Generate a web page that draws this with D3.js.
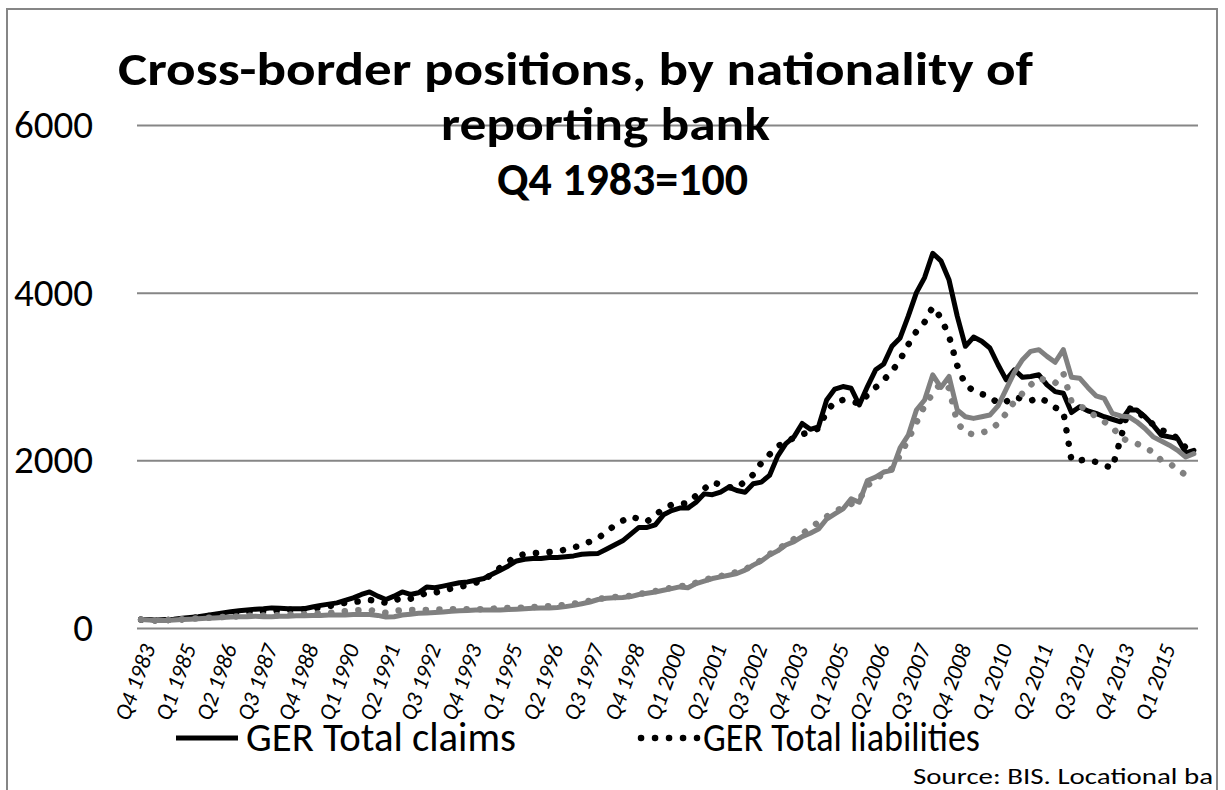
<!DOCTYPE html>
<html>
<head>
<meta charset="utf-8">
<script src="https://cdn.jsdelivr.net/npm/d3@7/dist/d3.min.js"></script>
<style>
  html, body { margin: 0; padding: 0; background: #fff; }
  svg { display: block; font-family: Carlito, Calibri, Lato, sans-serif; }
</style>
</head>
<body>
<div id="chart"></div>
<script>
// quarters run from Q4 1983, one label every 5 quarters
var firstQuarter = 4, firstYear = 1983, quarterCount = 130;
var tickLabels = ["Q4 1983", "Q1 1985", "Q2 1986", "Q3 1987", "Q4 1988", "Q1 1990",
  "Q2 1991", "Q3 1992", "Q4 1993", "Q1 1995", "Q2 1996", "Q3 1997", "Q4 1998",
  "Q1 2000", "Q2 2001", "Q3 2002", "Q4 2003", "Q1 2005", "Q2 2006", "Q3 2007",
  "Q4 2008", "Q1 2010", "Q2 2011", "Q3 2012", "Q4 2013", "Q1 2015"];
var yTicks = [0, 2000, 4000, 6000];

// GER Total claims (black solid)
var gerClaims = [
  100, 100, 95, 100, 105, 115, 125, 135, 150, 165,
  180, 195, 205, 215, 225, 230, 240, 235, 230, 230,
  230, 250, 270, 285, 300, 330, 360, 400, 430, 380,
  340, 380, 430, 400, 420, 490, 480, 500, 520, 540,
  550, 570, 590, 640, 690, 740, 800, 820, 830, 830,
  840, 840, 850, 860, 880, 885, 890, 940, 990, 1040,
  1120, 1200, 1200, 1230, 1350, 1400, 1430, 1430, 1500, 1600,
  1590, 1620, 1680, 1640, 1620, 1720, 1740, 1820, 2050, 2200,
  2280, 2440, 2370, 2400, 2720, 2850, 2880, 2860, 2660, 2880,
  3080, 3150, 3360, 3460, 3720, 4000, 4180, 4470, 4380, 4150,
  3720, 3360, 3470, 3420, 3340, 3140, 2960, 3080, 2990, 3000,
  3020, 2900, 2820, 2800, 2570, 2640, 2590, 2560, 2520, 2490,
  2460, 2600, 2600, 2520, 2420, 2300, 2280, 2260, 2090, 2120];

// GER Total liabilities (black dotted)
var gerLiabilities = [
  100, 95, 90, 95, 100, 105, 115, 125, 140, 150,
  160, 170, 180, 190, 200, 200, 205, 210, 215, 220,
  225, 235, 245, 260, 280, 300, 310, 320, 335, 320,
  300, 330, 360, 350, 380, 420, 420, 450, 470, 490,
  510, 540, 580, 640, 720, 790, 860, 880, 890, 900,
  905, 915, 935, 960, 990, 1030, 1070, 1150, 1220, 1280,
  1330, 1300, 1270, 1350, 1420, 1470, 1480, 1490, 1580, 1660,
  1740, 1710, 1680, 1670, 1750, 1830, 1970, 2070, 2170, 2220,
  2270, 2310, 2340, 2380, 2580, 2700, 2720, 2700, 2680, 2780,
  2870, 2960, 3060, 3200, 3380, 3540, 3650, 3830, 3700, 3480,
  3130, 2900, 2830, 2790, 2760, 2680, 2700, 2760, 2730, 2710,
  2750, 2700, 2630, 2580, 2000, 2000, 2010, 1980, 1940, 1910,
  2250, 2620, 2600, 2500, 2430, 2360, 2330, 2260, 2150, 2120];

// grey solid series
var greyClaims = [
  100, 95, 90, 90, 95, 100, 105, 110, 115, 120,
  125, 130, 135, 135, 140, 135, 135, 140, 140, 145,
  145, 150, 150, 155, 155, 155, 160, 160, 160, 150,
  130, 135, 155, 165, 175, 180, 185, 190, 200, 205,
  210, 215, 215, 215, 215, 220, 225, 230, 235, 240,
  240, 245, 255, 270, 290, 310, 340, 355, 360, 365,
  375, 400, 415, 430, 450, 470, 490, 480, 530, 560,
  590, 610, 630, 650, 690, 750, 800, 870, 920, 990,
  1030, 1090, 1130, 1180, 1300, 1360, 1420, 1540, 1500, 1760,
  1800, 1860, 1880, 2150, 2300, 2600, 2720, 3020, 2870, 3000,
  2600, 2520, 2500, 2520, 2540, 2650, 2850, 3050, 3200, 3300,
  3320, 3240, 3170, 3320, 2990, 2980, 2870, 2770, 2740, 2560,
  2530, 2520, 2460, 2380, 2280, 2230, 2180, 2120, 2040, 2080];

// grey dotted series
var greyLiabilities = [
  100, 95, 90, 95, 100, 105, 110, 115, 120, 125,
  130, 135, 140, 145, 150, 150, 150, 155, 160, 160,
  165, 170, 175, 180, 190, 200, 210, 215, 215, 195,
  180, 200, 215, 215, 215, 215, 220, 220, 225, 225,
  225, 225, 225, 230, 235, 240, 240, 245, 250, 255,
  260, 265, 275, 290, 305, 325, 345, 360, 370, 375,
  385, 405, 420, 440, 460, 480, 500, 500, 540, 570,
  600, 620, 640, 670, 700, 750, 810, 880, 940, 1000,
  1060, 1120, 1200, 1260, 1330, 1390, 1440, 1480, 1530, 1700,
  1770, 1850, 1900, 2060, 2250, 2450, 2650, 2800, 2920, 2860,
  2450, 2330, 2310, 2330, 2360, 2440, 2560, 2700, 2800, 2900,
  2980, 2950, 2920, 3040, 2700, 2650, 2600, 2520, 2460, 2400,
  2270, 2230, 2200, 2150, 2100, 2000, 1960, 1900, 1820, 1780];

var legendNames = ["GER Total claims", "GER Total liabilities"];
var sourceNote = "Source: BIS. Locational ba";

var W = 1225, H = 790;
var plot = {left: 137, right: 1198, top: 125, bottom: 628};

var quarters = [];
for (var i = 0; i < quarterCount; i++) {
  var q = (firstQuarter - 1 + i) % 4 + 1;
  var yr = firstYear + Math.floor((firstQuarter - 1 + i) / 4);
  quarters.push("Q" + q + " " + yr);
}

var svg = d3.select("#chart").append("svg")
  .attr("width", W)
  .attr("height", H);

// chart frame (bottom edge runs off the page)
svg.append("rect")
  .attr("x", 7).attr("y", 9)
  .attr("width", 1210).attr("height", 820)
  .attr("fill", "#fff")
  .attr("stroke", "#868686")
  .attr("stroke-width", 2);

var x = d3.scalePoint().domain(quarters).range([plot.left, plot.right]).padding(0.5);
var y = d3.scaleLinear().domain([0, 6000]).range([plot.bottom, plot.top]);

// gridlines + y labels
var yAxis = d3.axisLeft(y)
  .tickValues(yTicks)
  .tickFormat(d3.format("d"))
  .tickSize(-(plot.right - plot.left))
  .tickPadding(44);
var gy = svg.append("g")
  .attr("transform", "translate(" + plot.left + ",0)")
  .call(yAxis);
gy.select(".domain").remove();
gy.selectAll(".tick line").attr("stroke", "#868686").attr("stroke-width", 2);
gy.selectAll(".tick text")
  .attr("fill", "#000")
  .style("font-size", "39px")
  .style("font-family", "Carlito, Calibri, Lato, sans-serif");

// x labels, every 5th quarter
var labelQuarters = tickLabels.filter(function(d) { return quarters.indexOf(d) >= 0; });
svg.append("g").selectAll("text")
  .data(labelQuarters)
  .enter().append("text")
  .attr("transform", function(d) { return "translate(" + (x(d) + 7) + "," + 645 + ") rotate(-70)"; })
  .attr("text-anchor", "end")
  .attr("dy", "0.35em")
  .style("font-size", "23px")
  .style("font-style", "italic")
  .text(function(d) { return d; });

// lines
var line = d3.line()
  .x(function(d, i) { return x(quarters[i]); })
  .y(function(d) { return y(d); });

var series = [
  {values: gerClaims, color: "#000", width: 5, dash: null},
  {values: gerLiabilities, color: "#000", width: 6.5, dash: "0.1,13.5"},
  {values: greyClaims, color: "#808080", width: 5, dash: null},
  {values: greyLiabilities, color: "#808080", width: 6.5, dash: "0.1,13.5"}
];

series.forEach(function(s) {
  svg.append("path")
    .datum(s.values)
    .attr("fill", "none")
    .attr("stroke", s.color)
    .attr("stroke-width", s.width)
    .attr("stroke-linejoin", "round")
    .attr("stroke-linecap", "round")
    .attr("stroke-dasharray", s.dash)
    .attr("d", line);
});

// title
var titleLines = [
  {text: "Cross-border positions, by nationality of", x: 118, y: 85, len: 915},
  {text: "reporting bank", x: 441, y: 140, len: 329},
  {text: "Q4 1983=100", x: 497, y: 195, len: 251}
];
svg.append("g").selectAll("text")
  .data(titleLines)
  .enter().append("text")
  .attr("x", function(d) { return d.x; })
  .attr("y", function(d) { return d.y; })
  .attr("textLength", function(d) { return d.len; })
  .attr("lengthAdjust", "spacingAndGlyphs")
  .style("font-size", "46px")
  .style("font-weight", "bold")
  .text(function(d) { return d.text; });

// legend
var legend = svg.append("g");
legend.append("line")
  .attr("x1", 176).attr("x2", 238).attr("y1", 738).attr("y2", 738)
  .attr("stroke", "#000").attr("stroke-width", 5);
legend.append("text")
  .attr("x", 246).attr("y", 751)
  .attr("textLength", 270).attr("lengthAdjust", "spacingAndGlyphs")
  .style("font-size", "40px")
  .text(legendNames[0]);
legend.append("line")
  .attr("x1", 641).attr("x2", 697).attr("y1", 738).attr("y2", 738)
  .attr("stroke", "#000").attr("stroke-width", 6.5)
  .attr("stroke-linecap", "round")
  .attr("stroke-dasharray", "0.1,13.9");
legend.append("text")
  .attr("x", 703).attr("y", 751)
  .attr("textLength", 277).attr("lengthAdjust", "spacingAndGlyphs")
  .style("font-size", "40px")
  .text(legendNames[1]);

// source note
svg.append("text")
  .attr("x", 913).attr("y", 784)
  .attr("textLength", 300).attr("lengthAdjust", "spacingAndGlyphs")
  .style("font-size", "23px")
  .text(sourceNote);
</script>
</body>
</html>
